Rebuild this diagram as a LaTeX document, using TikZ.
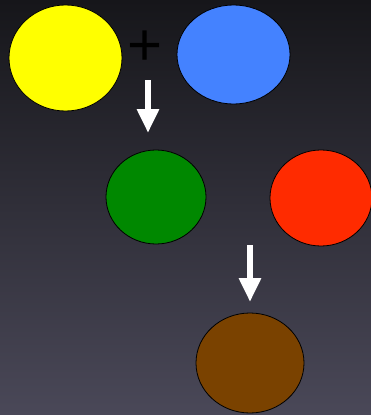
\documentclass[tikz,border=0pt]{standalone}
\usepackage{fontspec}
\newfontfamily\plusfont{Liberation Sans}
\usetikzlibrary{shapes.geometric,arrows.meta}
\definecolor{bgtop}{HTML}{16161A}
\definecolor{bgbot}{HTML}{4A4858}
\definecolor{cyellow}{HTML}{FFFF00}
\definecolor{cblue}{HTML}{4482FF}
\definecolor{cgreen}{HTML}{008800}
\definecolor{cred}{HTML}{FF2B00}
\definecolor{cbrown}{HTML}{7A4200}
\begin{document}
\begin{tikzpicture}[x=1pt,y=-1pt,
  blob/.style={ellipse,draw=black,line width=0.8pt,inner sep=0pt},
  bigarrow/.style={draw=white,line width=6pt,-{Triangle[width=21pt,length=24pt]}}]
\shade[top color=bgtop,bottom color=bgbot] (0,0) rectangle (371,415);
\useasboundingbox (0,0) rectangle (371,415);
\node[blob,fill=cyellow,minimum width=113pt,minimum height=106pt] (yellow) at (65.5,58) {};
\node[blob,fill=cblue,minimum width=113pt,minimum height=99pt] (blue) at (233.5,54.5) {};
\node[font=\plusfont\fontsize{60}{60}\selectfont,text=black,inner sep=0pt] (plus) at (145,48) {+};
\node[blob,fill=cgreen,minimum width=100pt,minimum height=94pt] (green) at (156,197) {};
\node[blob,fill=cred,minimum width=102pt,minimum height=96pt] (red) at (321,198) {};
\node[blob,fill=cbrown,minimum width=108pt,minimum height=100pt] (brown) at (250,363) {};
\coordinate (a1s) at (148,80);
\coordinate (a1e) at (148,133);
\coordinate (a2s) at (250,245);
\coordinate (a2e) at (250,302);
\draw[bigarrow] (a1s) -- (a1e);
\draw[bigarrow] (a2s) -- (a2e);
\end{tikzpicture}
\end{document}
